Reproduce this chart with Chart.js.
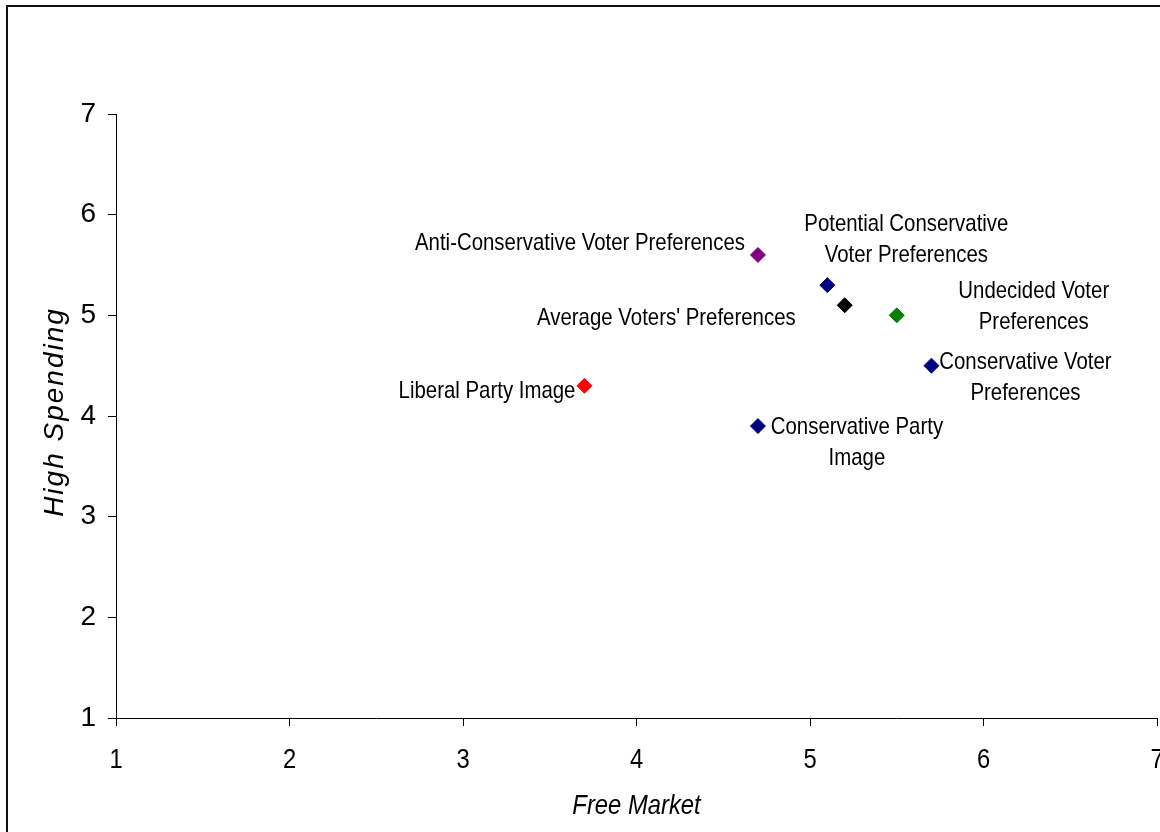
<!DOCTYPE html>
<html>
<head>
<meta charset="utf-8">
<script src="https://cdn.jsdelivr.net/npm/chart.js@4.4.0/dist/chart.umd.min.js"></script>
<style>
  html, body { margin: 0; padding: 0; background: #fff; overflow: hidden; }
  #wrap { position: relative; width: 1160px; height: 832px; }
  #frame { position: absolute; left: 6px; top: 5px; width: 1200px; height: 900px; border: 2px solid #111; box-sizing: border-box; }
  #chartBox { position: absolute; left: 0; top: 0; width: 1160px; height: 832px; }
</style>
</head>
<body>
<div id="wrap">
  <div id="frame"></div>
  <div id="chartBox"><canvas id="chart"></canvas></div>
</div>
<script>
// point names (drawn as data labels)
const pointLabels = [
  ["Anti-Conservative Voter Preferences"],
  ["Potential Conservative", "Voter Preferences"],
  ["Average Voters' Preferences"],
  ["Undecided Voter", "Preferences"],
  ["Conservative Voter", "Preferences"],
  ["Liberal Party Image"],
  ["Conservative Party", "Image"]
];
const freeMarket = [4.7, 5.1, 5.2, 5.5, 5.7, 3.7, 4.7];
const highSpending = [5.6, 5.3, 5.1, 5.0, 4.5, 4.3, 3.9];
const pointColors = ["#800080", "#000080", "#000000", "#008000", "#000080", "#FF0000", "#000080"];
const axisTicks = [1, 2, 3, 4, 5, 6, 7];

// where each label sits relative to its marker
const labelPlacement = [
  { align: "right", dx: -13, dy: -12 },
  { align: "center", dx: 79, dy: -61 },
  { align: "right", dx: -49, dy: 13 },
  { align: "center", dx: 137, dy: -24 },
  { align: "center", dx: 94, dy: -3 },
  { align: "right", dx: -9, dy: 6 },
  { align: "center", dx: 99, dy: 1 }
];

const FONT = "'Liberation Sans', Arial, sans-serif";
const SQUEEZE = 0.85; // the original text is set narrower than Arial

function narrowText(ctx, text, x, y) {
  ctx.save();
  ctx.translate(x, y);
  ctx.scale(SQUEEZE, 1);
  ctx.fillText(text, 0, 0);
  ctx.restore();
}

const pointLabelPlugin = {
  id: "pointLabels",
  afterDatasetsDraw(chart) {
    const ctx = chart.ctx;
    const meta = chart.getDatasetMeta(0);
    ctx.save();
    ctx.fillStyle = "#000";
    ctx.font = "24px " + FONT;
    ctx.textBaseline = "middle";
    meta.data.forEach((pt, i) => {
      const p = labelPlacement[i];
      ctx.textAlign = p.align;
      pointLabels[i].forEach((line, j) => {
        narrowText(ctx, line, pt.x + p.dx, pt.y + p.dy + j * 31);
      });
    });
    ctx.restore();
  }
};

const axisTextPlugin = {
  id: "axisText",
  afterDraw(chart) {
    const ctx = chart.ctx;
    const area = chart.chartArea;
    const xs = chart.scales.x;
    ctx.save();
    ctx.fillStyle = "#000";
    // x tick labels
    ctx.font = "28px " + FONT;
    ctx.textAlign = "center";
    ctx.textBaseline = "middle";
    axisTicks.forEach(v => {
      narrowText(ctx, String(v), xs.getPixelForValue(v), area.bottom + 42);
    });
    // axis titles
    ctx.font = "italic 28px " + FONT;
    narrowText(ctx, "Free Market", (area.left + area.right) / 2, xs.bottom - 26);
    ctx.translate(55, (area.top + area.bottom) / 2 - 4);
    ctx.rotate(-Math.PI / 2);
    ctx.letterSpacing = "2px";
    ctx.fillText("High Spending", 0, 0);
    ctx.restore();
  }
};

const points = freeMarket.map((x, i) => ({ x: x, y: highSpending[i] }));

new Chart(document.getElementById("chart"), {
  type: "scatter",
  data: {
    datasets: [{
      data: points,
      pointStyle: "rectRot",
      pointRadius: 7.5,
      pointHoverRadius: 7.5,
      pointBackgroundColor: pointColors,
      pointBorderColor: pointColors,
      pointBorderWidth: 1
    }]
  },
  options: {
    responsive: true,
    maintainAspectRatio: false,
    animation: false,
    events: [],
    layout: { autoPadding: false, padding: { top: 114, right: 3, left: 0, bottom: 0 } },
    plugins: {
      legend: { display: false },
      tooltip: { enabled: false }
    },
    scales: {
      x: {
        type: "linear",
        min: 1,
        max: 7,
        afterBuildTicks: (scale) => { scale.ticks = axisTicks.map(v => ({ value: v })); },
        afterFit: (scale) => { scale.height = 114; },
        grid: { drawOnChartArea: false, tickLength: 8, color: "#000", tickColor: "#000", lineWidth: 1 },
        border: { color: "#000", width: 1 },
        ticks: { display: false }
      },
      y: {
        type: "linear",
        min: 1,
        max: 7,
        afterBuildTicks: (scale) => { scale.ticks = axisTicks.map(v => ({ value: v })); },
        afterFit: (scale) => {
          scale.width = 116;
          scale.paddingTop = 0;
          scale.paddingBottom = 0;
        },
        grid: { drawOnChartArea: false, tickLength: 8, color: "#000", tickColor: "#000", lineWidth: 1 },
        border: { color: "#000", width: 1 },
        ticks: { color: "#000", padding: 12, font: { size: 28, family: FONT } }
      }
    }
  },
  plugins: [pointLabelPlugin, axisTextPlugin]
});
</script>
</body>
</html>
